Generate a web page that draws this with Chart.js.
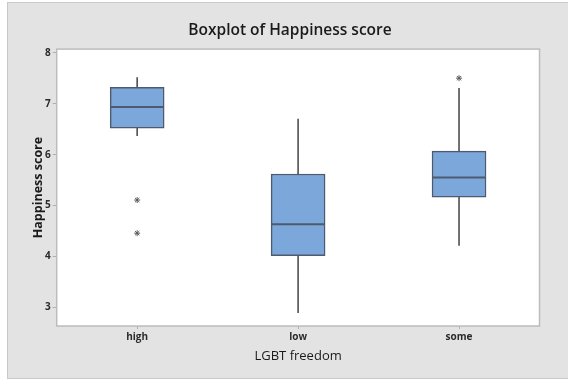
<!DOCTYPE html>
<html>
<head>
<meta charset="utf-8">
<script src="https://cdn.jsdelivr.net/npm/chart.js@4"></script>
<style>
  html, body { margin: 0; padding: 0; background: #ffffff; }
  #wrap { width: 568px; height: 381px; position: relative; }
</style>
</head>
<body>
<div id="wrap"><canvas id="c" width="568" height="381"></canvas></div>
<script>
// Happiness score by LGBT freedom level: five-number summaries and outliers
const categories  = ['high', 'low', 'some'];
const whiskerLow  = [6.37, 2.90, 4.22];
const q1          = [6.52, 4.02, 5.165];
const median      = [6.935, 4.635, 5.55];
const q3          = [7.32, 5.62, 6.07];
const whiskerHigh = [7.51, 6.70, 7.30];
const outlierCats = ['high', 'high', 'some'];
const outlierVals = [5.11, 4.46, 7.50];
const yTicks      = [3, 4, 5, 6, 7, 8];

const boxFill   = '#7ba7da';
const boxEdge   = '#4e5b6e';
const lineGrey  = '#555555';

// Grey panel behind everything, white plot region and its frame
const frame = {
  id: 'frame',
  beforeDraw(chart) {
    const { ctx, chartArea: a } = chart;
    ctx.save();
    ctx.fillStyle = '#ffffff';
    ctx.fillRect(0, 0, chart.width, chart.height);
    ctx.fillStyle = '#e3e3e3';
    ctx.fillRect(7, 2, chart.width - 7, 377);
    ctx.strokeStyle = '#c9c9c9';
    ctx.lineWidth = 1;
    ctx.strokeRect(7.5, 2.5, chart.width, 376);
    ctx.fillStyle = '#ffffff';
    ctx.fillRect(a.left, a.top, a.right - a.left, a.bottom - a.top);
    ctx.restore();
  },
  afterDraw(chart) {
    const { ctx, chartArea: a } = chart;
    ctx.save();
    ctx.strokeStyle = '#bcbcbc';
    ctx.lineWidth = 1.5;
    ctx.strokeRect(a.left, a.top, a.right - a.left, a.bottom - a.top);
    ctx.restore();
  }
};

const tickFont = { family: '"Open Sans", "Noto Sans", sans-serif', size: 10, weight: '700' };

new Chart(document.getElementById('c'), {
  type: 'bar',
  data: {
    labels: categories,
    datasets: [
      {
        label: 'lower whisker',
        data: categories.map((c, i) => [whiskerLow[i], q1[i]]),
        backgroundColor: lineGrey,
        borderWidth: 0,
        barThickness: 1,
        grouped: false,
        order: 3
      },
      {
        label: 'upper whisker',
        data: categories.map((c, i) => [q3[i], whiskerHigh[i]]),
        backgroundColor: lineGrey,
        borderWidth: 0,
        barThickness: 1,
        grouped: false,
        order: 3
      },
      {
        label: 'box',
        data: categories.map((c, i) => [q1[i], q3[i]]),
        backgroundColor: boxFill,
        borderColor: boxEdge,
        borderWidth: 1.5,
        borderSkipped: false,
        barThickness: 54,
        grouped: false,
        order: 2
      },
      {
        type: 'line',
        label: 'median',
        data: categories.map((c, i) => ({ x: c, y: median[i] })),
        showLine: false,
        pointStyle: 'line',
        pointRadius: 26.5,
        pointBorderWidth: 2,
        pointBorderColor: boxEdge,
        order: 1
      },
      {
        type: 'line',
        label: 'outliers',
        data: outlierCats.map((c, i) => ({ x: c, y: outlierVals[i] })),
        showLine: false,
        pointStyle: 'star',
        pointRadius: 3,
        pointBorderWidth: 1,
        pointBorderColor: '#5a5a5a',
        order: 0
      }
    ]
  },
  options: {
    responsive: false,
    animation: false,
    devicePixelRatio: 1,
    events: [],
    layout: { padding: { left: 32.5, right: 20.5, top: 0, bottom: 0 } },
    plugins: {
      legend: { display: false },
      tooltip: { enabled: false },
      title: {
        display: true,
        text: 'Boxplot of Happiness score',
        color: '#1a1a1a',
        font: { family: '"Open Sans", "Noto Sans", sans-serif', size: 15.5, weight: '600', lineHeight: 1.2 },
        padding: { top: 21.5, bottom: 9 }
      }
    },
    scales: {
      x: {
        type: 'category',
        offset: true,
        grid: { display: true, offset: false, drawOnChartArea: false, drawTicks: true, tickLength: 3, color: '#b0b0b0' },
        border: { display: false },
        ticks: { font: tickFont, color: '#2b2b2b', padding: 2 },
        title: {
          display: true,
          text: 'LGBT freedom',
          color: '#1a1a1a',
          font: { family: '"Open Sans", "Noto Sans", sans-serif', size: 13, weight: '500', lineHeight: 1.2 },
          padding: { top: 0, bottom: 16.5 }
        },
        afterFit(s) { s.height = 55; }
      },
      y: {
        type: 'linear',
        min: 2.64,
        max: 8.07,
        grid: { display: true, drawOnChartArea: false, drawTicks: true, tickLength: 4, color: '#b0b0b0' },
        border: { display: false },
        afterBuildTicks(s) { s.ticks = yTicks.map(v => ({ value: v })); },
        ticks: { font: tickFont, color: '#2b2b2b', padding: 2 },
        title: {
          display: true,
          text: 'Happiness score',
          color: '#1a1a1a',
          font: { family: '"Open Sans", "Noto Sans", sans-serif', size: 12.5, weight: '700', lineHeight: 1.2 },
          padding: { top: -1.1, bottom: 0 }
        },
        afterFit(s) { s.width = 24.2; }
      }
    }
  },
  plugins: [frame]
});
</script>
</body>
</html>
